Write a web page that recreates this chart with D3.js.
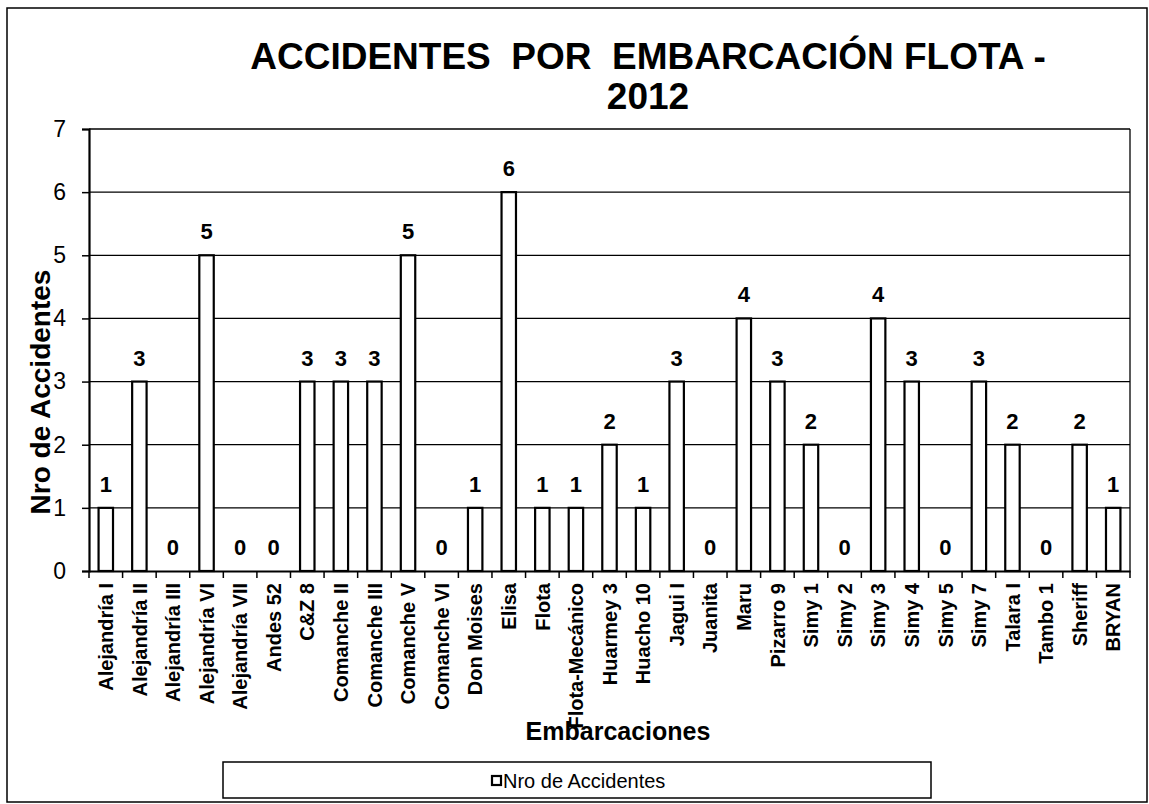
<!DOCTYPE html>
<html>
<head>
<meta charset="utf-8">
<script src="https://cdn.jsdelivr.net/npm/d3@7"></script>
<style>
  html, body { margin: 0; padding: 0; background: #fff; }
  svg { display: block; }
  text { font-family: Arial, "Liberation Sans", sans-serif; fill: #000; }
</style>
</head>
<body>
<svg id="chart" width="1149" height="804"></svg>
<script>
const categories = ["Alejandría I","Alejandría II","Alejandría III","Alejandría VI","Alejandría VII","Andes 52","C&Z 8","Comanche II","Comanche III","Comanche V","Comanche VI","Don Moises","Elisa","Flota","Flota-Mecánico","Huarmey 3","Huacho 10","Jagui I","Juanita","Maru","Pizarro 9","Simy 1","Simy 2","Simy 3","Simy 4","Simy 5","Simy 7","Talara I","Tambo 1","Sheriff","BRYAN"];
const accidentes = [1,3,0,5,0,0,3,3,3,5,0,1,6,1,1,2,1,3,0,4,3,2,0,4,3,0,3,2,0,2,1];
const yTickValues = [0,1,2,3,4,5,6,7];
const titleLines = ["ACCIDENTES  POR  EMBARCACIÓN FLOTA -", "2012"];
const yTitle = "Nro de Accidentes";
const xTitle = "Embarcaciones";
const seriesName = "Nro de Accidentes";

const svg = d3.select("#chart");
const plot = {left: 89, right: 1130, top: 129, bottom: 571};

// outer frame
svg.append("rect").attr("x", 7).attr("y", 8).attr("width", 1140).attr("height", 794)
  .attr("fill", "#fff").attr("stroke", "#000").attr("stroke-width", 1.5);

const x = d3.scaleBand().domain(categories).range([plot.left, plot.right]).padding(0);
const y = d3.scaleLinear().domain([0, 7]).range([plot.bottom, plot.top]);

// gridlines
svg.append("g").selectAll("line").data(yTickValues.filter(v => v > 0)).join("line")
  .attr("x1", plot.left).attr("x2", plot.right)
  .attr("y1", d => y(d)).attr("y2", d => y(d))
  .attr("stroke", "#000").attr("stroke-width", 1.3);

// right border of plot
svg.append("line").attr("x1", plot.right).attr("x2", plot.right)
  .attr("y1", plot.top).attr("y2", plot.bottom).attr("stroke", "#000").attr("stroke-width", 1.3);

// bars
const bw = x.bandwidth() * 0.43;
svg.append("g").selectAll("rect").data(categories).join("rect")
  .attr("x", (d) => x(d) + (x.bandwidth() - bw) / 2)
  .attr("width", bw)
  .attr("y", (d, i) => y(accidentes[i]))
  .attr("height", (d, i) => y(0) - y(accidentes[i]))
  .attr("fill", "#fff").attr("stroke", "#000").attr("stroke-width", 2.2);

// value labels
svg.append("g").selectAll("text").data(categories).join("text")
  .attr("x", d => x(d) + x.bandwidth() / 2)
  .attr("y", (d, i) => y(accidentes[i]) - 16)
  .attr("text-anchor", "middle")
  .attr("font-size", 22).attr("font-weight", "bold")
  .text((d, i) => accidentes[i]);

// y axis
const yAxis = d3.axisLeft(y).tickValues(yTickValues).tickSize(7).tickPadding(16).tickFormat(d3.format("d"));
const gy = svg.append("g").attr("transform", `translate(${plot.left},0)`).call(yAxis);
gy.select(".domain").attr("stroke", "#000").attr("stroke-width", 2.2);
gy.selectAll(".tick line").attr("stroke", "#000").attr("stroke-width", 1.5);
gy.selectAll(".tick text").attr("font-size", 23).attr("font-family", "Arial, 'Liberation Sans', sans-serif").attr("fill", "#000");

// x axis
const xAxis = d3.axisBottom(x).tickSize(0).tickPadding(0);
const gx = svg.append("g").attr("transform", `translate(0,${plot.bottom})`).call(xAxis);
gx.select(".domain").attr("stroke", "#000").attr("stroke-width", 2);
gx.selectAll(".tick text")
  .attr("font-size", 20).attr("font-weight", "bold")
  .attr("font-family", "Arial, 'Liberation Sans', sans-serif").attr("fill", "#000")
  .attr("text-anchor", "end")
  .attr("transform", "rotate(-90)")
  .attr("x", -12).attr("y", 0).attr("dy", "0.36em");
// boundary ticks
const bounds = categories.map(c => x(c)).concat([plot.right]);
svg.append("g").selectAll("line").data(bounds).join("line")
  .attr("x1", d => d).attr("x2", d => d)
  .attr("y1", plot.bottom).attr("y2", plot.bottom + 7)
  .attr("stroke", "#000").attr("stroke-width", 1.5);

// title
const title = svg.append("text").attr("text-anchor", "middle")
  .attr("font-size", 37).attr("font-weight", "bold");
title.selectAll("tspan").data(titleLines).join("tspan")
  .attr("x", 648).attr("y", (d, i) => 69 + i * 40)
  .attr("xml:space", "preserve").style("white-space", "pre")
  .text(d => d);

// y title
svg.append("text")
  .attr("transform", `translate(50,392) rotate(-90)`)
  .attr("text-anchor", "middle")
  .attr("font-size", 28).attr("font-weight", "bold")
  .text(yTitle);

// x title
svg.append("text")
  .attr("x", 618).attr("y", 740)
  .attr("text-anchor", "middle")
  .attr("font-size", 25).attr("font-weight", "bold")
  .text(xTitle);

// legend
svg.append("rect").attr("x", 223).attr("y", 762).attr("width", 708).attr("height", 36)
  .attr("fill", "#fff").attr("stroke", "#000").attr("stroke-width", 1.5);
svg.append("rect").attr("x", 492).attr("y", 776).attr("width", 9).attr("height", 9)
  .attr("fill", "#fff").attr("stroke", "#000").attr("stroke-width", 2.2);
svg.append("text").attr("x", 503).attr("y", 788)
  .attr("font-size", 20)
  .text(seriesName);
</script>
</body>
</html>
